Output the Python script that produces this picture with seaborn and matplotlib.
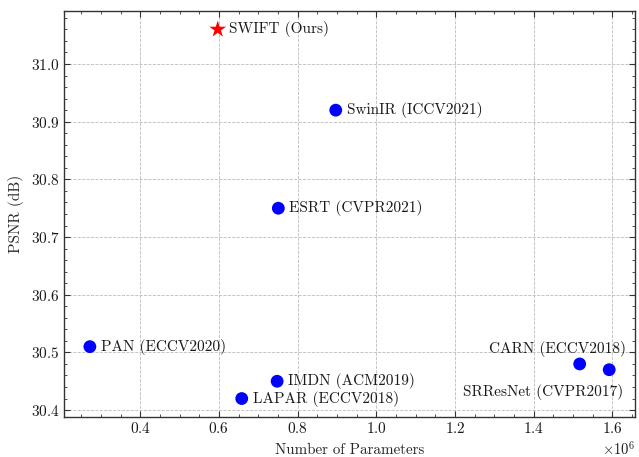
import matplotlib
matplotlib.use("Agg")
import matplotlib.pyplot as plt
import pandas as pd
import seaborn as sns
from matplotlib.ticker import MultipleLocator

# data
methods = ["SWIFT (Ours)", "SwinIR (ICCV2021)", "ESRT (CVPR2021)", "PAN (ECCV2020)",
           "IMDN (ACM2019)", "LAPAR (ECCV2018)", "CARN (ECCV2018)", "SRResNet (CVPR2017)"]
params = [0.597e6, 0.897e6, 0.751e6, 0.272e6, 0.748e6, 0.658e6, 1.517e6, 1.592e6]
psnr = [31.06, 30.92, 30.75, 30.51, 30.45, 30.42, 30.48, 30.47]
is_ours = [True, False, False, False, False, False, False, False]

# label placement (offset in points, horizontal alignment)
label_offsets = {
    "CARN (ECCV2018)": ((33, 11), "right"),
    "SRResNet (CVPR2017)": ((10, -16), "right"),
}

sns.set_theme(style="ticks")
plt.rcParams["font.family"] = ["cmr10", "DejaVu Serif"]
plt.rcParams["mathtext.fontset"] = "cm"
plt.rcParams["axes.formatter.use_mathtext"] = True
plt.rcParams["axes.unicode_minus"] = False

frame = pd.DataFrame({"method": methods, "params": params, "psnr": psnr, "ours": is_ours})

fig, ax = plt.subplots(figsize=(6.39, 4.57), dpi=100)
fig.subplots_adjust(left=0.100, right=0.994, top=0.976, bottom=0.0875)

others = frame[~frame["ours"]]
ours = frame[frame["ours"]]
sns.scatterplot(data=others, x="params", y="psnr", color="#0000ff", s=85,
                marker="o", edgecolor="none", ax=ax, zorder=3)
sns.scatterplot(data=ours, x="params", y="psnr", color="#ff0000", s=160,
                marker="*", edgecolor="none", ax=ax, zorder=3)

for _, row in frame.iterrows():
    offset, ha = label_offsets.get(row["method"], ((8, 0), "left"))
    ax.annotate(row["method"], (row["params"], row["psnr"]), textcoords="offset points",
                xytext=offset, ha=ha, va="center", fontsize=11, color="#1a1a1a")

ax.margins(0.05)
ax.set_xlabel("Number of Parameters", fontsize=10.8, labelpad=5)
ax.set_ylabel("PSNR (dB)", fontsize=11, labelpad=5)

ax.yaxis.set_major_locator(MultipleLocator(0.1))
ax.yaxis.set_minor_locator(MultipleLocator(0.02))
ax.xaxis.set_major_locator(MultipleLocator(0.2e6))
ax.xaxis.set_minor_locator(MultipleLocator(0.05e6))
ax.tick_params(which="both", direction="in", top=True, right=True, labelsize=11,
               colors="#333333", labelcolor="#1a1a1a", pad=3)
ax.tick_params(which="major", length=4, width=0.8)
ax.tick_params(which="minor", length=2.2, width=0.6)
ax.xaxis.get_offset_text().set_fontsize(10.5)

ax.grid(True, which="major", linestyle="--", linewidth=0.6, color="#bbbbbb")
for spine in ax.spines.values():
    spine.set_linewidth(1.0)
    spine.set_color("#333333")

fig.savefig("out.png", dpi=100)
